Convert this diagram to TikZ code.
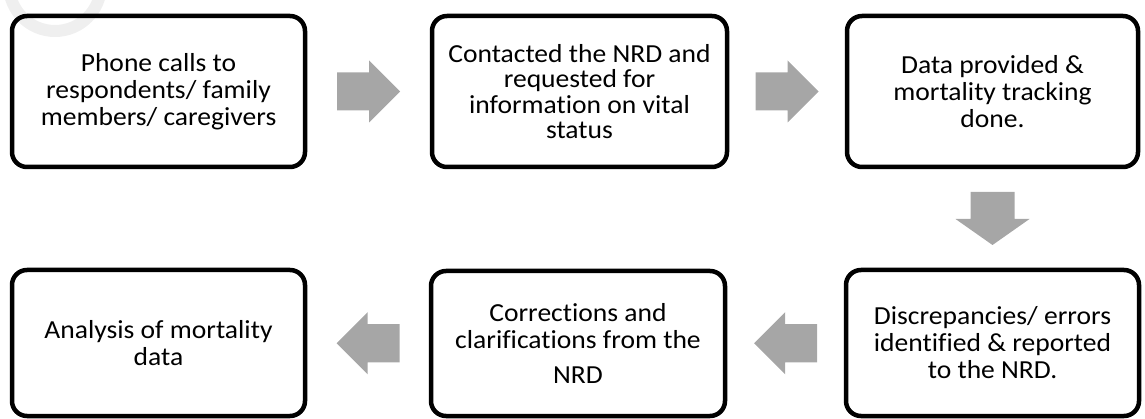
\documentclass[tikz,border=0pt]{standalone}
\usepackage{fontspec}
\setmainfont{Carlito}[FakeStretch=1.06, Ligatures=NoCommon]
\usetikzlibrary{calc}
\definecolor{arrowgrey}{HTML}{A6A6A6}
\definecolor{markgrey}{HTML}{EFEFEF}
\begin{document}
\begin{tikzpicture}[x=1pt,y=-1pt,
  stepbox/.style={draw=black, line width=4.5pt, rounded corners=15pt,
    minimum width=293pt, minimum height=151pt, align=center, inner sep=0pt,
    font=\fontsize{26}{27}\selectfont},
  blockarr/.pic={\fill[arrowgrey] (-31.5,-19) -- (0.5,-19) -- (0.5,-31) -- (31.5,0)
      -- (0.5,31) -- (0.5,19) -- (-31.5,19) -- cycle;},
  droparr/.pic={\fill[arrowgrey] (-26.5,-22) -- (0.5,-22) -- (0.5,-37) -- (26.5,0)
      -- (0.5,37) -- (0.5,22) -- (-26.5,22) -- cycle;}]
\useasboundingbox (0,0) rectangle (1145,419);

% faint ring in the corner
\draw[markgrey, line width=12pt] (55,-15) circle (46);

% process steps
\node[stepbox] (phone) at (158.5,91.5)
  {Phone calls to\\respondents/ family\\members/ caregivers};
\node[stepbox, minimum width=295pt] (nrd) at (579.5,91.5)
  {Contacted the NRD and\\[-1.5pt]requested for\\[-1.5pt]information on vital\\[-1.5pt]status};
\node[stepbox, minimum width=291pt] (data) at (992.5,91.5)
  {Data provided \&\\mortality tracking\\done.};
\node[stepbox, minimum height=146pt] (disc) at (992.5,343)
  {\raisebox{-3pt}{\parbox{280pt}{\centering Discrepancies/ errors\\identified \& reported\\to the NRD.}}};
\node[stepbox, minimum width=294pt, minimum height=145pt] (corr) at (578,343.5)
  {Corrections and\\clarifications from the\\[8pt]NRD};
\node[stepbox, minimum height=146pt] (anal) at (158.5,343)
  {Analysis of mortality\\data};

% block arrows between the steps
\pic at ($(phone.east)!0.5!(nrd.west)$) {blockarr};
\pic at ($(nrd.east)!0.5!(data.west)$) {blockarr};
\pic[rotate=-90] at ($(data.south)!0.5!(disc.north)$) {droparr};
\pic[rotate=180] at ($(disc.west)!0.5!(corr.east)$) {blockarr};
\pic[rotate=180] at ($(corr.west)!0.5!(anal.east)$) {blockarr};
\end{tikzpicture}
\end{document}
